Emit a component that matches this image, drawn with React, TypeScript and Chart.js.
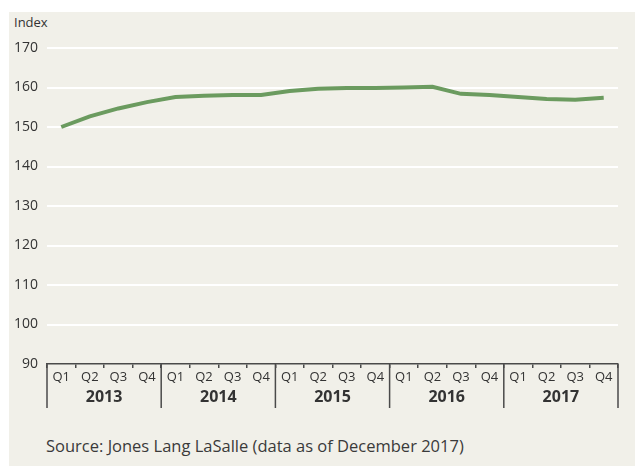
import React, { useEffect, useRef } from 'react';
import { Chart, registerables } from 'chart.js';

Chart.register(...registerables);

const years = ['2013', '2014', '2015', '2016', '2017'];
const quarters = ['Q1', 'Q2', 'Q3', 'Q4'];
const quarterLabels = years.flatMap(() => quarters);
const indexValues = [
  150.0, 152.7, 154.7, 156.3,
  157.6, 157.9, 158.1, 158.1,
  159.1, 159.7, 159.9, 159.9,
  160.0, 160.2, 158.4, 158.1,
  157.6, 157.1, 156.9, 157.4,
];
const yMin = 90;
const yMax = 170;
const yStep = 10;
const yAxisLabel = 'Index';
const sourceText = 'Source: Jones Lang LaSalle (data as of December 2017)';

const FONT = '"Open Sans", "Noto Sans", sans-serif';
const TEXT = '#333333';
const AXIS = '#4a4a4a';

const separatorPlugin = {
  id: 'yearSeparators',
  afterDraw(chart: any) {
    const { ctx, chartArea } = chart;
    const x2 = chart.scales.x2;
    if (!x2) return;
    const n = years.length;
    const step = n > 1 ? x2.getPixelForValue(1) - x2.getPixelForValue(0) : chartArea.width;
    ctx.save();
    ctx.strokeStyle = AXIS;
    ctx.lineWidth = 1.5;
    for (let i = 0; i <= n; i++) {
      const x = i < n ? x2.getPixelForValue(i) - step / 2 : x2.getPixelForValue(n - 1) + step / 2;
      ctx.beginPath();
      ctx.moveTo(x, chartArea.bottom);
      ctx.lineTo(x, x2.bottom);
      ctx.stroke();
    }
    ctx.restore();
  },
};

export default function App() {
  const ref = useRef<HTMLCanvasElement | null>(null);
  useEffect(() => {
    if (!ref.current) return;
    const chart = new Chart(ref.current, {
      type: 'line',
      data: {
        labels: quarterLabels,
        datasets: [
          {
            data: indexValues,
            borderColor: '#6b9b5f',
            borderWidth: 4,
            pointRadius: 0,
            tension: 0,
            fill: false,
          },
        ],
      },
      options: {
        animation: false,
        responsive: true,
        maintainAspectRatio: false,
        layout: { padding: { top: 36, right: 17, left: 0, bottom: 0 } },
        plugins: { legend: { display: false }, tooltip: { enabled: false } },
        scales: {
          x: {
            type: 'category',
            offset: true,
            position: 'bottom',
            grid: {
              offset: true,
              drawOnChartArea: false,
              drawTicks: true,
              tickLength: 4,
              color: AXIS,
              lineWidth: 1.5,
            },
            border: { display: true, color: AXIS, width: 1.5 },
            ticks: {
              color: TEXT,
              font: { family: FONT, size: 13 },
              padding: 1,
              maxRotation: 0,
              autoSkip: false,
            },
            afterFit(scale: any) {
              scale.height = 22;
            },
          },
          x2: {
            type: 'category',
            labels: years,
            offset: true,
            position: 'bottom',
            grid: { display: false, drawTicks: false },
            border: { display: false },
            ticks: {
              color: TEXT,
              font: { family: FONT, size: 16, weight: 'bold' },
              padding: 2,
              maxRotation: 0,
              autoSkip: false,
            },
            afterFit(scale: any) {
              scale.height = 22;
            },
          },
          y: {
            min: yMin,
            max: yMax,
            grid: {
              color: (c: any) => (c.tick && c.tick.value === yMin ? 'rgba(0,0,0,0)' : '#ffffff'),
              lineWidth: 2,
              drawTicks: false,
            },
            border: { display: false },
            ticks: {
              stepSize: yStep,
              color: TEXT,
              font: { family: FONT, size: 14 },
              padding: 9,
            },
            afterFit(scale: any) {
              scale.width = 38;
            },
          },
        },
      },
      plugins: [separatorPlugin],
    } as any);
    return () => chart.destroy();
  }, []);

  return (
    <div
      style={{
        position: 'absolute',
        left: 9,
        top: 12,
        width: 626,
        height: 454,
        background: '#f1f0e9',
        fontFamily: FONT,
        color: TEXT,
      }}
    >
      <div style={{ position: 'absolute', left: 5, top: 1, fontSize: 13, lineHeight: '18px' }}>{yAxisLabel}</div>
      <div style={{ position: 'absolute', left: 0, top: 0, width: 626, height: 396 }}>
        <canvas ref={ref} />
      </div>
      <div style={{ position: 'absolute', left: 37, top: 423, fontSize: 16.5, lineHeight: '22px', color: '#3a3a3a' }}>{sourceText}</div>
    </div>
  );
}
